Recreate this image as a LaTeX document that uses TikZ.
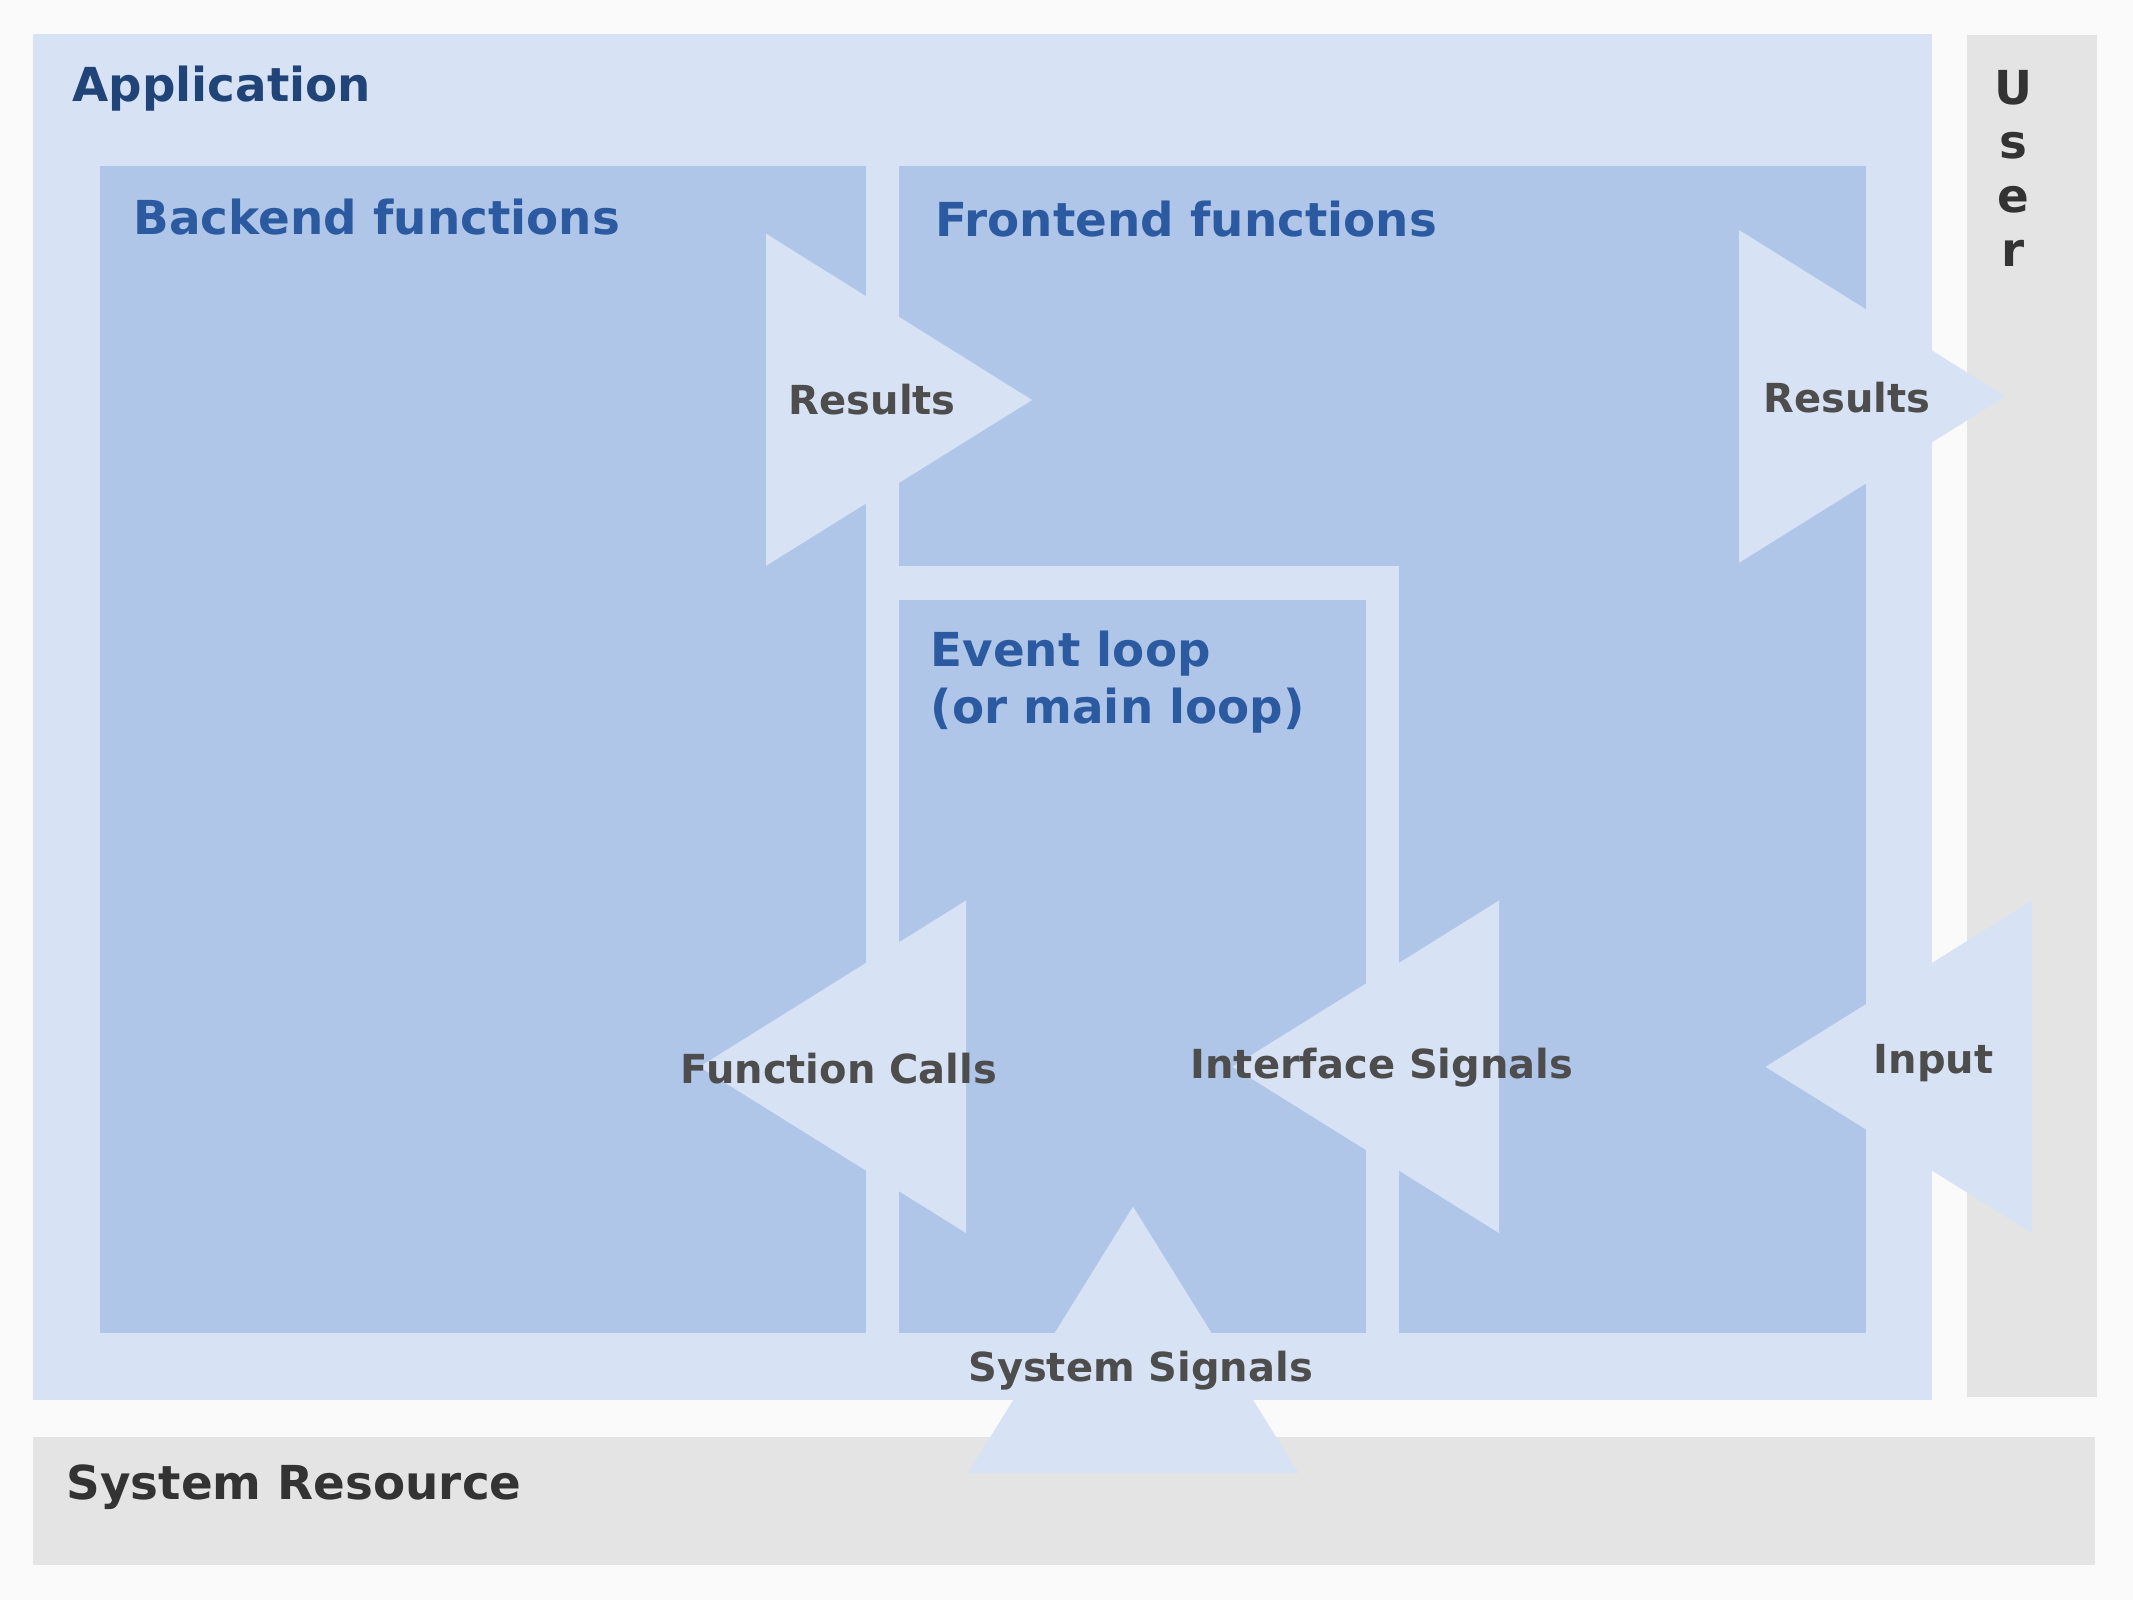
\documentclass[tikz,border=0pt]{standalone}
\usepackage{fontspec}
\setmainfont{DejaVu Sans}
\definecolor{bgc}{HTML}{FAFAFA}
\definecolor{lightc}{HTML}{D7E3F4}
\definecolor{midc}{HTML}{AFC6E9}
\definecolor{grayc}{HTML}{E4E4E4}
\definecolor{navyc}{HTML}{214478}
\definecolor{bluec}{HTML}{2C5AA0}
\definecolor{labc}{HTML}{4D4D4D}
\definecolor{darkc}{HTML}{333333}
\tikzset{
  lightbox/.style={fill=lightc, draw=none},
  midbox/.style={fill=midc, draw=none},
  graybox/.style={fill=grayc, draw=none},
  flow/.style={fill=lightc, draw=none},
  title/.style={inner sep=0pt, anchor=base west, font=\bfseries\fontsize{46.8}{57}\selectfont},
  flowlabel/.style={inner sep=0pt, anchor=base west, text=labc, font=\bfseries\fontsize{40}{48}\selectfont},
}
\begin{document}
\begin{tikzpicture}[x=1pt,y=-1pt]
\useasboundingbox (0,0) rectangle (2133,1600);
\fill[bgc] (0,0) rectangle (2133,1600);
% containers
\path[lightbox] (33.3,33.7) rectangle (1932,1399.5);
\path[graybox] (1967.4,35.2) rectangle (2097,1397);
\path[graybox] (33.3,1437) rectangle (2094.6,1565);
\path[midbox] (100,166.3) rectangle (866,1333);
\path[midbox] (899.4,166.3) rectangle (1865.5,1333);
\path[lightbox] (899.4,565.8) rectangle (1399,1333);
\path[midbox] (899.4,600) rectangle (1366,1333);
% flow arrows
\path[flow] (766,233.7) -- (1032,400) -- (766,565.8) -- cycle;
\path[flow] (1739,230) -- (2005.5,396.4) -- (1739,562.8) -- cycle;
\path[flow] (966,900.5) -- (699.5,1066.8) -- (966,1233) -- cycle;
\path[flow] (1499,900.5) -- (1232.5,1066.8) -- (1499,1233) -- cycle;
\path[flow] (2032,900.5) -- (1765.5,1066.8) -- (2032,1233) -- cycle;
\path[flow] (968,1473) -- (1133,1206.6) -- (1298.5,1473) -- cycle;
% titles
\node[title, text=navyc] (tapp) at (72.2,102) {Application};
\node[title, text=bluec] (tback) at (133.5,234.7) {Backend functions};
\node[title, text=bluec] (tfront) at (935.5,236) {Frontend functions};
\node[title, text=bluec] (tev1) at (930.5,666) {Event loop};
\node[title, text=bluec] (tev2) at (930.5,723.3) {(or main loop)};
\node[title, text=darkc] (tsys) at (66.5,1499) {System Resource};
\node[inner sep=0pt, anchor=north, align=center, text=darkc, font=\bfseries\fontsize{46.8}{54}\selectfont] (tuser) at (2013,70) {U\\s\\e\\r};
% flow labels
\node[flowlabel] (lres1) at (788.6,414) {Results};
\node[flowlabel] (lres2) at (1763.5,412) {Results};
\node[flowlabel] (lfc) at (680.5,1083) {Function Calls};
\node[flowlabel] (lis) at (1190.4,1078) {Interface Signals};
\node[flowlabel] (lin) at (1873.6,1073) {Input};
\node[flowlabel] (lss) at (968,1381.6) {System Signals};
\end{tikzpicture}
\end{document}
